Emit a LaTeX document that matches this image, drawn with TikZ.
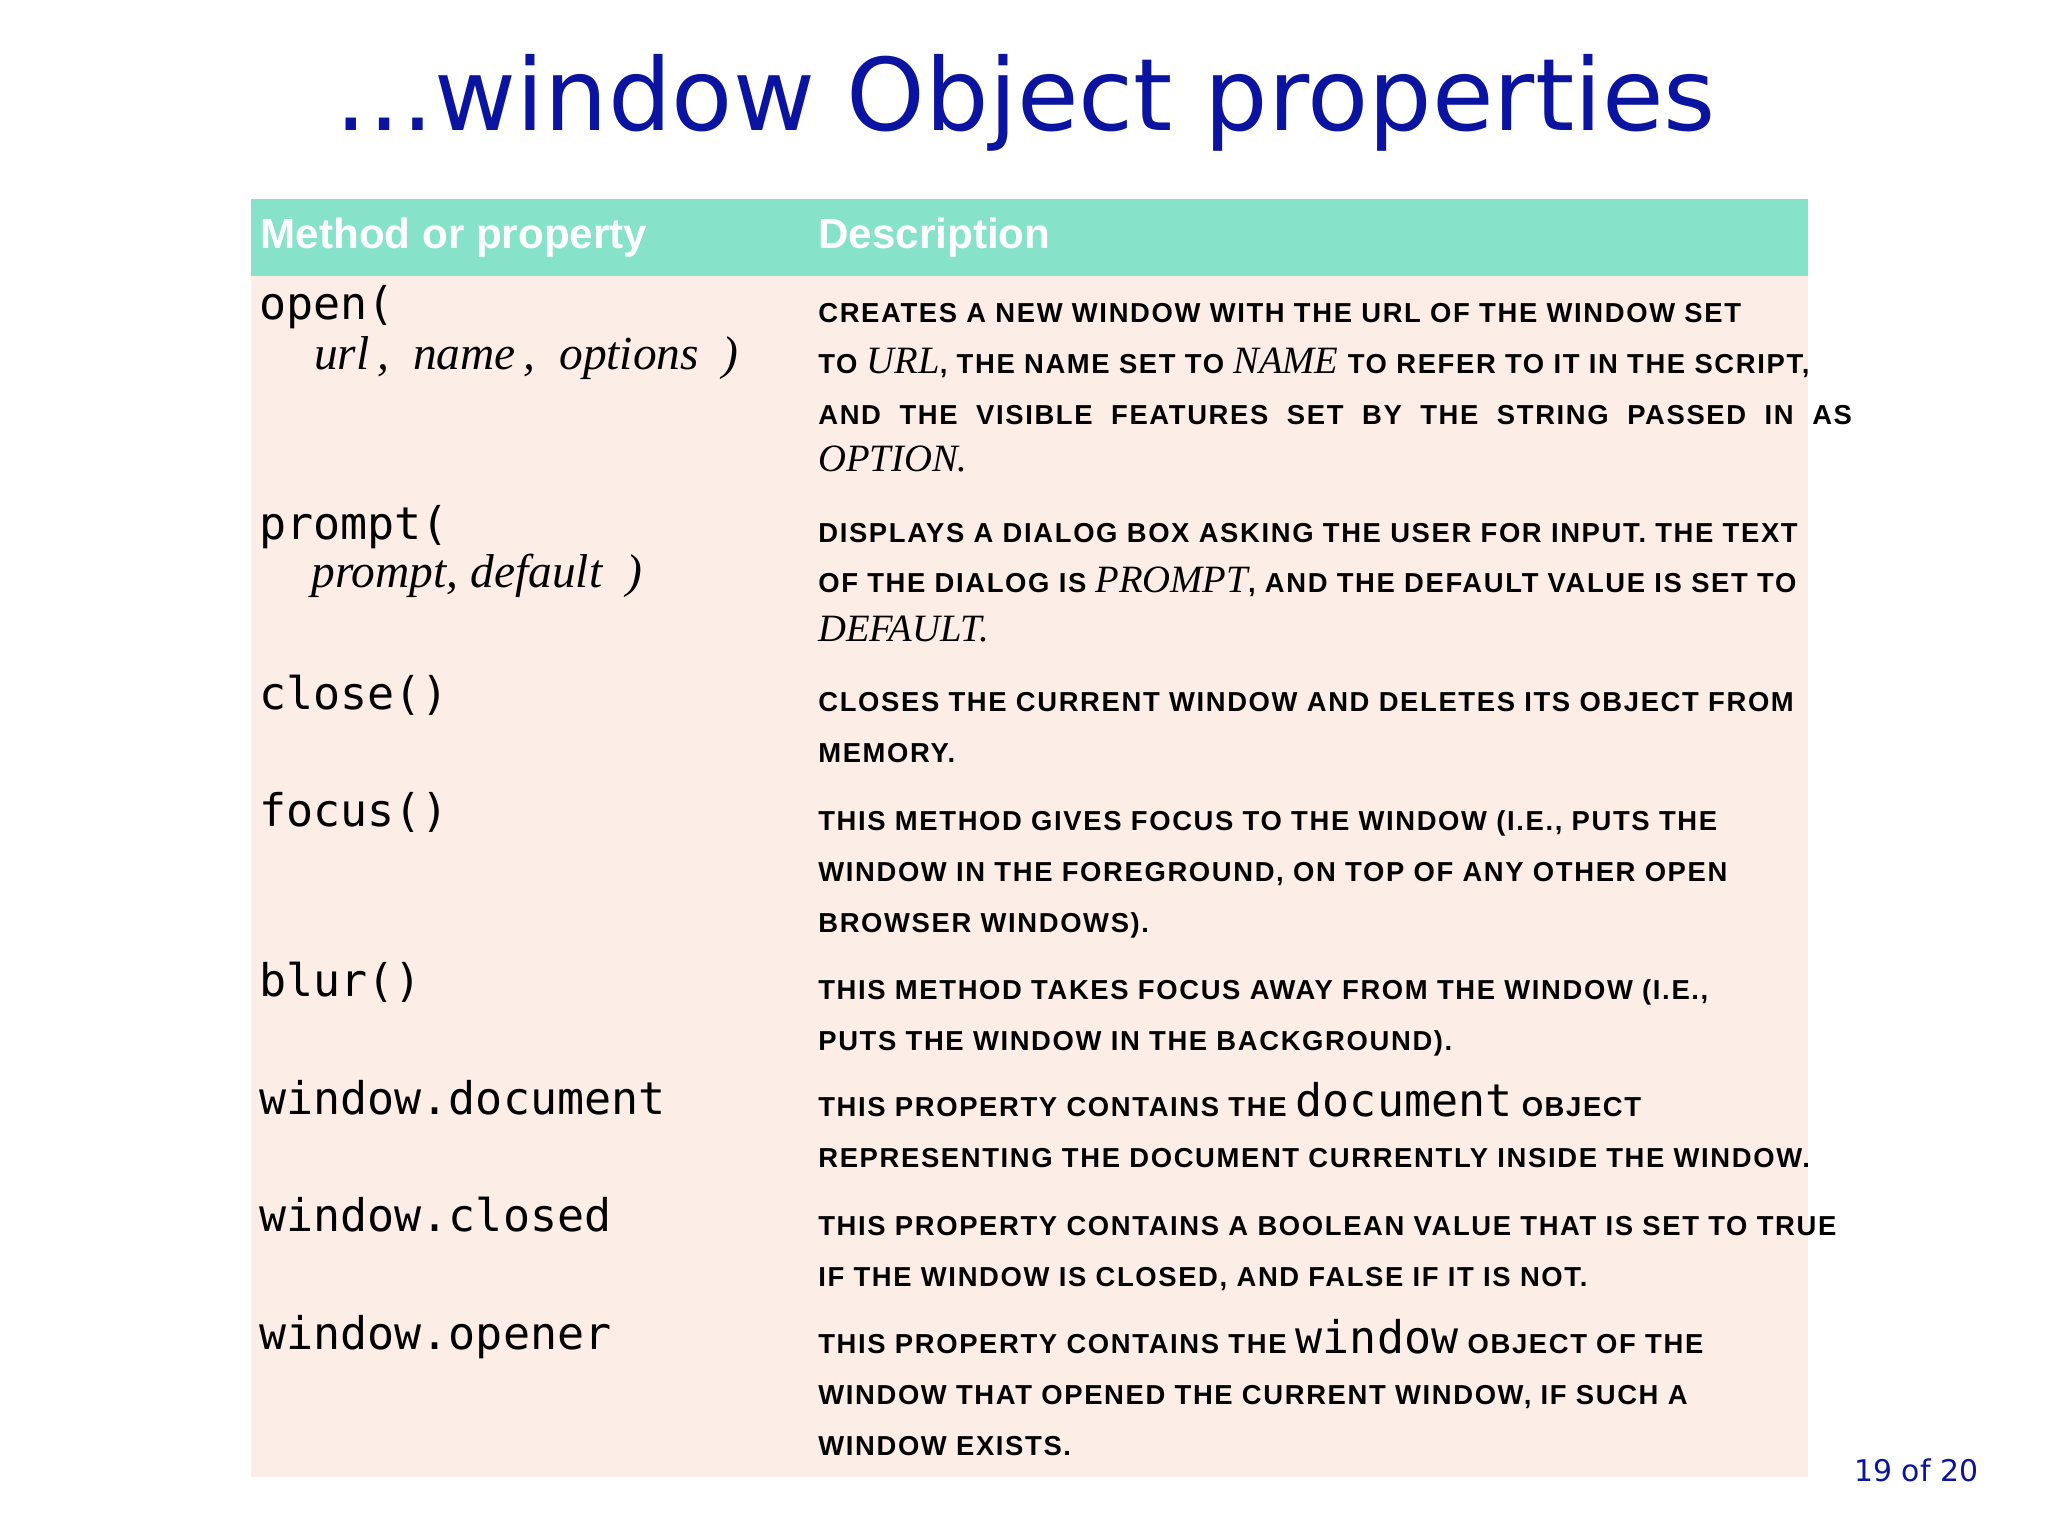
\documentclass[tikz,border=0pt]{standalone}
\usepackage{fontspec}
\setmainfont{Liberation Serif}
\newfontfamily\ttl{DejaVu Sans}
\newfontfamily\hdr{Liberation Sans}
\newfontfamily\dscf[LetterSpace=6]{Liberation Sans}
\newfontfamily\mono{DejaVu Sans Mono}
\definecolor{titleblue}{HTML}{0A14A0}
\definecolor{hdrgreen}{HTML}{86E3C9}
\definecolor{bodybg}{HTML}{FCEEE6}
\tikzset{
 lft/.style={anchor=base west,inner sep=0pt,font=\mono\fontsize{12.8}{15}\selectfont},
 arg/.style={anchor=base west,inner sep=0pt,font=\fontsize{13.5}{15}\itshape\selectfont},
 dsc/.style={anchor=base west,inner sep=0pt,font=\dscf\bfseries\fontsize{7.8}{9}\selectfont},
 hd/.style={anchor=base west,inner sep=0pt,text=white,font=\hdr\bfseries\fontsize{12}{14}\selectfont}
}
\newcommand\itx[1]{{\mdseries\normalfont\itshape\fontsize{11}{12}\selectfont #1}}
\newcommand\mnx[1]{{\mdseries\mono\fontsize{12.8}{15}\selectfont #1}}
\begin{document}
\begin{tikzpicture}[x=0.01306cm,y=-0.01306cm]
\fill[white] (0,0) rectangle (1568,1176);
\node[anchor=base,inner sep=0pt,text=titleblue,font=\ttl\fontsize{28.5}{34}\selectfont] (title) at (785,100) {\ldots window Object properties};
\fill[hdrgreen] (192,152) rectangle (1384,211);
\fill[bodybg] (192,211) rectangle (1384,1131);
\node[hd] (h1) at (199,190) {Method or property};
\node[hd] (h2) at (626,190) {Description};
% left column
\node[lft] (l1) at (198,245) {open(};
\node[arg] (l1b) at (240,283) {url\,,\ \ name\,,\ \ options\ \ )};
\node[lft] (l2) at (198,413) {prompt(};
\node[arg] (l2b) at (238,450) {prompt, default\ \ )};
\node[lft] (l3) at (198,543) {close()};
\node[lft] (l4) at (198,633) {focus()};
\node[lft] (l5) at (198,763) {blur()};
\node[lft] (l6) at (198,853) {window.document};
\node[lft] (l7) at (198,943) {window.closed};
\node[lft] (l8) at (198,1033) {window.opener};
% descriptions
\node[dsc] (d1) at (626,247) {CREATES A NEW WINDOW WITH THE URL OF THE WINDOW SET};
\node[dsc] (d2) at (626,286) {TO \itx{URL}, THE NAME SET TO \itx{NAME} TO REFER TO IT IN THE SCRIPT,};
\node[dsc] (d3) at (626,325) {AND\ \ THE\ \ VISIBLE\ \ FEATURES\ \ SET\ \ BY\ \ THE\ \ STRING\ \ PASSED\ \ IN\ \ AS};
\node[dsc] (d4) at (626,361) {\itx{OPTION.}};
\node[dsc] (d5) at (626,415) {DISPLAYS A DIALOG BOX ASKING THE USER FOR INPUT. THE TEXT};
\node[dsc] (d6) at (626,454) {OF THE DIALOG IS \itx{PROMPT}, AND THE DEFAULT VALUE IS SET TO};
\node[dsc] (d7) at (626,491) {\itx{DEFAULT.}};
\node[dsc] (d8) at (626,545) {CLOSES THE CURRENT WINDOW AND DELETES ITS OBJECT FROM};
\node[dsc] (d9) at (626,584) {MEMORY.};
\node[dsc] (d10) at (626,636) {THIS METHOD GIVES FOCUS TO THE WINDOW (I.E., PUTS THE};
\node[dsc] (d11) at (626,675) {WINDOW IN THE FOREGROUND, ON TOP OF ANY OTHER OPEN};
\node[dsc] (d12) at (626,714) {BROWSER WINDOWS).};
\node[dsc] (d13) at (626,765) {THIS METHOD TAKES FOCUS AWAY FROM THE WINDOW (I.E.,};
\node[dsc] (d14) at (626,804) {PUTS THE WINDOW IN THE BACKGROUND).};
\node[dsc] (d15) at (626,855) {THIS PROPERTY CONTAINS THE \mnx{document} OBJECT};
\node[dsc] (d16) at (626,894) {REPRESENTING THE DOCUMENT CURRENTLY INSIDE THE WINDOW.};
\node[dsc] (d17) at (626,946) {THIS PROPERTY CONTAINS A BOOLEAN VALUE THAT IS SET TO TRUE};
\node[dsc] (d18) at (626,985) {IF THE WINDOW IS CLOSED, AND FALSE IF IT IS NOT.};
\node[dsc] (d19) at (626,1036) {THIS PROPERTY CONTAINS THE \mnx{window} OBJECT OF THE};
\node[dsc] (d20) at (626,1075) {WINDOW THAT OPENED THE CURRENT WINDOW, IF SUCH A};
\node[dsc] (d21) at (626,1114) {WINDOW EXISTS.};
\node[anchor=base east,inner sep=0pt,text=titleblue,font=\ttl\fontsize{8.5}{10}\selectfont] (pg) at (1515,1134) {19 of 20};
\end{tikzpicture}
\end{document}
